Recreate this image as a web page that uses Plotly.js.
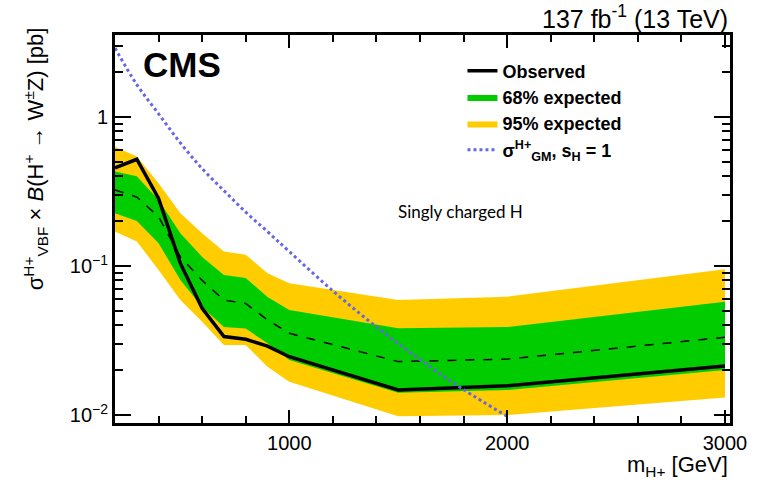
<!DOCTYPE html>
<html>
<head>
<meta charset="utf-8">
<script src="https://cdn.plot.ly/plotly-3.0.1.min.js"></script>
<style>html,body{margin:0;padding:0;background:#fff;}#chart{width:767px;height:480px;}</style>
</head>
<body>
<div id="chart"></div>
<script>
// Mass points [GeV]
const mass = [200, 300, 400, 500, 600, 700, 800, 900, 1000, 1500, 2000, 3000];
// Observed limit [pb]
const observed = [0.455, 0.52, 0.284, 0.104, 0.052, 0.0336, 0.0322, 0.029, 0.0246, 0.0147, 0.0157, 0.0213];
// Median expected [pb]
const expected = [0.324, 0.29, 0.214, 0.115, 0.080, 0.059, 0.056, 0.0434, 0.0353, 0.0228, 0.0237, 0.0332];
// 68% band
const exp68Up = [0.43, 0.40, 0.277, 0.166, 0.115, 0.087, 0.083, 0.062, 0.0507, 0.0382, 0.0389, 0.0576];
const exp68Dn = [0.226, 0.20, 0.142, 0.0805, 0.053, 0.039, 0.038, 0.0303, 0.0234, 0.0141, 0.0147, 0.0200];
// 95% band
const exp95Up = [0.632, 0.542, 0.359, 0.226, 0.166, 0.125, 0.119, 0.0893, 0.0765, 0.059, 0.0622, 0.095];
const exp95Dn = [0.17, 0.146, 0.094, 0.059, 0.0423, 0.0295, 0.0295, 0.0211, 0.0167, 0.0098, 0.0100, 0.0131];
// GM model prediction, s_H = 1
const gmMass = [200, 300, 400, 500, 600, 700, 800, 900, 1000, 1200, 1400, 1600, 1800, 2000];
const gmXsec = [2.9, 1.65, 1.05, 0.67, 0.45, 0.32, 0.23, 0.17, 0.125, 0.068, 0.039, 0.0235, 0.0148, 0.0098];

const xTickVals = [1000, 2000, 3000];
const xTickText = ['1000', '2000', '3000'];
const xMinorVals = [400,600,800,1200,1400,1600,1800,2200,2400,2600,2800];
const yTickVals = [0.01, 0.1, 1];
const yTickText = ['10<sup>\u22122</sup>', '10<sup>\u22121</sup>', '1'];
const yMinorVals = [0.02,0.03,0.04,0.05,0.06,0.07,0.08,0.09,0.2,0.3,0.4,0.5,0.6,0.7,0.8,0.9,2,3];

const FONT = 'Liberation Sans, Arial, Helvetica, sans-serif';
const GREEN = '#00cc00', YELLOW = '#ffcc00';
const FRAME = 'black';
const YR = [-2.054, 0.55], XR = [200, 3023];

const traces = [
  {x: mass, y: exp95Dn, mode: 'lines', line: {width: 0, color: YELLOW}, showlegend: false, hoverinfo: 'skip'},
  {x: mass, y: exp95Up, mode: 'lines', fill: 'tonexty', fillcolor: YELLOW, line: {width: 0, color: YELLOW},
   name: '95% expected', legendrank: 3},
  {x: mass, y: exp68Dn, mode: 'lines', line: {width: 0, color: GREEN}, showlegend: false, hoverinfo: 'skip'},
  {x: mass, y: exp68Up, mode: 'lines', fill: 'tonexty', fillcolor: GREEN, line: {width: 0, color: GREEN},
   name: '68% expected', legendrank: 2},
  {x: mass, y: expected, mode: 'lines', line: {color: 'black', width: 1.5, dash: 'dash'}, showlegend: false},
  {x: mass, y: observed, mode: 'lines', line: {color: 'black', width: 3.5}, name: 'Observed', legendrank: 1},
  {x: gmMass, y: gmXsec, mode: 'lines', line: {color: '#6666e6', width: 3, dash: 'dot', shape: 'spline'},
   name: '\u03c3<sup>H+</sup><sub>GM</sub>, s<sub>H</sub> = 1', legendrank: 4},
  {x: [XR[0]], y: [1], xaxis: 'x2', yaxis: 'y2', mode: 'markers', marker: {opacity: 0}, showlegend: false, hoverinfo: 'skip'}
];

const tickCommon = {tickcolor: FRAME, tickwidth: 1.5, ticks: 'inside', showgrid: false, zeroline: false};

const layout = {
  width: 767, height: 480,
  margin: {l: 115, r: 37, t: 35, b: 57},
  paper_bgcolor: 'white', plot_bgcolor: 'white',
  font: {family: FONT, color: 'black'},
  showlegend: true,
  legend: {x: 0.565, y: 0.955, xanchor: 'left', yanchor: 'top', bgcolor: 'rgba(0,0,0,0)',
    font: {family: FONT, size: 18, weight: 'bold', color: 'black'}, itemwidth: 30, traceorder: 'normal'},
  xaxis: Object.assign({}, tickCommon, {
    type: 'linear', range: XR,
    tickmode: 'array', tickvals: xTickVals, ticktext: xTickText, ticklen: 13,
    showline: true, linewidth: 3, linecolor: FRAME, mirror: 'allticks',
    tickfont: {family: FONT, size: 20, color: 'black'}
  }),
  yaxis: Object.assign({}, tickCommon, {
    type: 'log', range: YR,
    tickmode: 'array', tickvals: yTickVals, ticktext: yTickText, ticklen: 16,
    showline: true, linewidth: 3, linecolor: FRAME, mirror: 'allticks',
    tickfont: {family: FONT, size: 20, color: 'black'}
  }),
  xaxis2: Object.assign({}, tickCommon, {
    type: 'linear', range: XR, overlaying: 'x', anchor: 'y2',
    tickmode: 'array', tickvals: xMinorVals, ticklen: 7, showticklabels: false,
    showline: false, mirror: 'allticks'
  }),
  yaxis2: Object.assign({}, tickCommon, {
    type: 'log', range: YR, overlaying: 'y', anchor: 'x2',
    tickmode: 'array', tickvals: yMinorVals, ticklen: 8, showticklabels: false,
    showline: false, mirror: 'allticks'
  }),
  annotations: [
    {text: '<b>CMS</b>', xref: 'paper', yref: 'paper', x: 0.043, y: 0.925, xanchor: 'left', yanchor: 'middle',
     showarrow: false, font: {family: FONT, size: 35, color: 'black'}},
    {text: '137 fb<sup>-1</sup> (13 TeV)', xref: 'paper', yref: 'paper', x: 1.0, y: 1.046, xanchor: 'right', yanchor: 'middle',
     showarrow: false, font: {family: FONT, size: 25, color: 'black'}},
    {text: 'm<sub>H+</sub> [GeV]', xref: 'paper', yref: 'paper', x: 1.0, y: -0.11, xanchor: 'right', yanchor: 'middle',
     showarrow: false, font: {family: FONT, size: 22, color: 'black'}},
    {text: '\u03c3<sup>H+</sup><sub>VBF</sub> \u00d7 <i>B</i>(H<sup>+</sup> \u2192 W<sup>\u00b1</sup>Z) [pb]', xref: 'paper', yref: 'paper',
     x: -0.13, y: 0.68, xanchor: 'center', yanchor: 'middle', textangle: -90,
     showarrow: false, font: {family: FONT, size: 22, color: 'black'}},
    {text: 'Singly charged H', xref: 'paper', yref: 'paper', x: 0.561, y: 0.544, xanchor: 'center', yanchor: 'middle',
     showarrow: false, font: {family: 'Lato, Open Sans, sans-serif', size: 17, color: 'black'}}
  ]
};

Plotly.newPlot('chart', traces, layout, {displayModeBar: false});
</script>
</body>
</html>
